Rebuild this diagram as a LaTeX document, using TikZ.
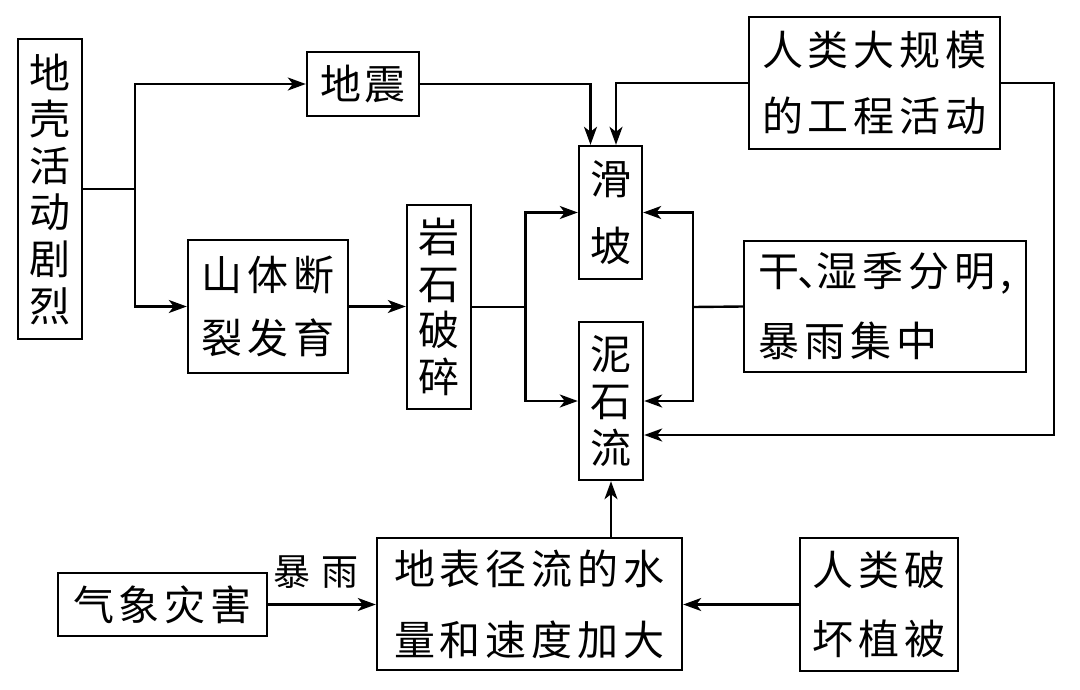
\documentclass[tikz,border=0pt]{standalone}
\usepackage{fontspec}
\newfontfamily\cjk{Noto Sans CJK SC}
\usetikzlibrary{arrows.meta}
\newdimen\lsk \lsk=5pt
\def\ls#1{\lsa#1\relax}
\def\lsa#1{#1\lsb}
\def\lsb#1{\ifx#1\relax\else\kern\lsk#1\expandafter\lsb\fi}
\tikzset{
  box/.style={draw, line width=2.4pt, inner sep=0pt, align=center},
  fv/.style={font=\cjk\fontsize{41}{46.6}\selectfont},
  arr/.style={line width=2.4pt, -{Stealth[length=18pt,width=13pt,inset=5pt]}},
  ln/.style={line width=2.4pt},
}
\begin{document}
\begin{tikzpicture}[x=1pt,y=-1pt]
\useasboundingbox (0,0) rectangle (1080,689);
% boxes
\node[box, fv, minimum width=64pt, minimum height=300pt] (A) at (50,189) {地\\壳\\活\\动\\剧\\烈};
\node[box, font=\cjk\fontsize{41}{46}\selectfont, minimum width=112pt, minimum height=64pt] (B) at (363,84) {地\kern3pt 震};
\node[box, font=\cjk\fontsize{41}{63}\selectfont, minimum width=160pt, minimum height=133pt] (C) at (268,306.5) {\ls{山体断}\\\ls{裂发育}};
\node[box, fv, minimum width=64pt, minimum height=204pt] (D) at (439,307) {岩\\石\\破\\碎};
\node[box, font=\cjk\fontsize{41}{67}\selectfont, minimum width=63pt, minimum height=133pt] (E) at (610.5,212.5) {滑\\坡};
\node[box, fv, minimum width=64pt, minimum height=158pt] (F) at (611,401) {泥\\石\\流};
\node[box, font=\cjk\fontsize{41}{66}\selectfont, minimum width=251pt, minimum height=132pt] (G) at (874.5,83) {\ls{人类大规模}\\\ls{的工程活动}};
\node[box, font=\cjk\fontsize{41}{70}\selectfont, align=left, minimum width=282pt, minimum height=131pt] (H) at (885,306.5) {干\kern-2pt 、\kern-22pt \ls{湿季分明,}\\\ls{暴雨集中}};
\node[box, font=\cjk\fontsize{41}{46}\selectfont, minimum width=209pt, minimum height=63pt] (I) at (162.5,604.5) {\ls{气象灾害}};
\node[box, font=\cjk\fontsize{41}{71}\selectfont, minimum width=305pt, minimum height=132pt] (J) at (529.5,604) {\ls{地表径流的水}\\\ls{量和速度加大}};
\node[box, font=\cjk\fontsize{41}{69}\selectfont, minimum width=158pt, minimum height=133pt] (K) at (879,604.5) {\ls{人类破}\\\ls{坏植被}};
\node[font=\cjk\fontsize{37}{37}\selectfont, inner sep=0pt] (rain) at (316,572) {暴\kern12pt 雨};
% junctions
\coordinate (j1) at (135,189);
\coordinate (j2) at (525.5,307);
\coordinate (j3) at (693,307);
\coordinate (r) at (1054,83);
% connectors
\draw[ln] (A.east) -- (j1);
\draw[arr] (j1) |- (B.west);
\draw[arr] (j1) |- (C.west);
\draw[arr] (C.east) -- (C.east -| D.west);
\draw[ln] (D.east) -- (j2);
\draw[arr] (j2) |- (E.west);
\draw[arr] (j2) |- (F.west);
\draw[ln] (H.west) -- (j3);
\draw[arr] (j3) |- (E.east);
\draw[arr] (j3) |- (F.east);
\draw[arr] (B.east) -| ([xshift=-20pt]E.north);
\draw[arr] (G.west) -| ([xshift=5.5pt]E.north);
\draw[arr] (G.east) -- (r) |- ([yshift=-34pt]F.east);
\draw[arr] (J.north -| F.south) -- (F.south);
\draw[arr] (I.east) -- (I.east -| J.west);
\draw[arr] (K.west) -- (K.west -| J.east);
\end{tikzpicture}
\end{document}
